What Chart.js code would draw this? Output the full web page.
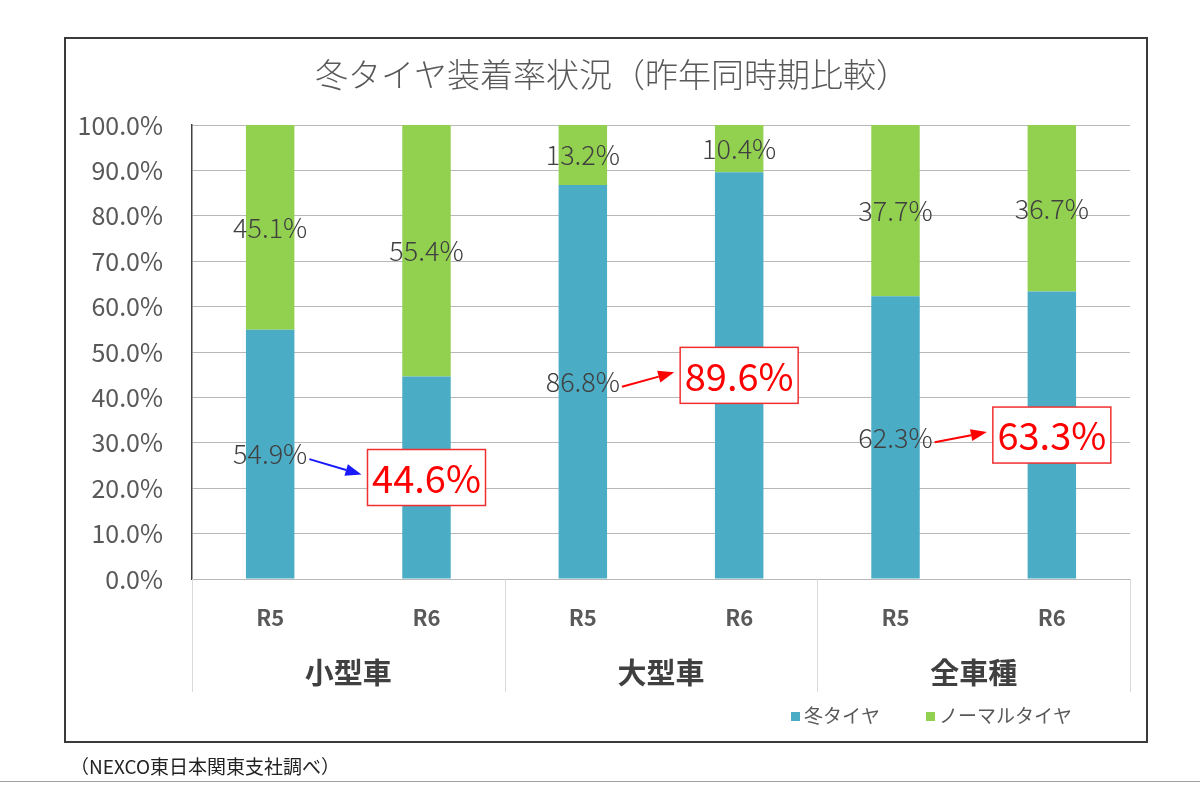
<!DOCTYPE html>
<html>
<head>
<meta charset="utf-8">
<script src="https://cdn.jsdelivr.net/npm/chart.js@4"></script>
<style>
  html, body { margin: 0; padding: 0; background: #fff; }
  #wrap { width: 1200px; height: 800px; }
</style>
</head>
<body>
<div id="wrap"><canvas id="barChart" width="1200" height="800"></canvas></div>
<script>
// values
const periods = ["R5", "R6", "R5", "R6", "R5", "R6"];
const groups = ["小型車", "大型車", "全車種"];
const winterTires = [54.9, 44.6, 86.8, 89.6, 62.3, 63.3];
const normalTires = [45.1, 55.4, 13.2, 10.4, 37.7, 36.7];
const highlighted = [1, 3, 5];
const arrowColors = ["#1a1aff", "#ff0000", "#ff0000"];

const FONT = '"Noto Sans CJK JP", "Noto Sans", sans-serif';

// frame, title, footnote
const framePlugin = {
  id: "frame",
  beforeDraw(chart) {
    const ctx = chart.ctx;
    ctx.save();
    ctx.fillStyle = "#fff";
    ctx.fillRect(0, 0, chart.width, chart.height);
    ctx.strokeStyle = "#3a3a3a";
    ctx.lineWidth = 2;
    ctx.strokeRect(65, 38, 1082, 704);
    ctx.strokeStyle = "#a0a0a0";
    ctx.lineWidth = 1;
    ctx.beginPath();
    ctx.moveTo(0, 781.5);
    ctx.lineTo(1200, 781.5);
    ctx.stroke();

    ctx.fillStyle = "#595959";
    ctx.font = "300 33px " + FONT;
    ctx.textAlign = "center";
    ctx.textBaseline = "middle";
    ctx.fillText("冬タイヤ装着率状況（昨年同時期比較）", 612, 74);

    ctx.fillStyle = "#222";
    ctx.font = "19px " + FONT;
    ctx.textAlign = "left";
    ctx.fillText("（NEXCO東日本関東支社調べ）", 70, 767);
    ctx.restore();
  }
};

// two-level category axis and legend
const axisPlugin = {
  id: "groupAxis",
  afterDraw(chart) {
    const ctx = chart.ctx;
    const x = chart.scales.x;
    const area = chart.chartArea;
    const slot = (area.right - area.left) / periods.length;
    ctx.save();
    ctx.strokeStyle = "#d9d9d9";
    ctx.lineWidth = 1;
    for (let g = 0; g <= groups.length; g++) {
      const px = Math.round(area.left + g * 2 * slot) + 0.5;
      ctx.beginPath();
      ctx.moveTo(px, area.bottom);
      ctx.lineTo(px, 692);
      ctx.stroke();
    }
    ctx.textAlign = "center";
    ctx.textBaseline = "middle";
    ctx.fillStyle = "#595959";
    ctx.font = "bold 22px " + FONT;
    periods.forEach((p, i) => {
      ctx.fillText(p, x.getPixelForValue(i), 618);
    });
    ctx.fillStyle = "#404040";
    ctx.font = "bold 29px " + FONT;
    groups.forEach((g, i) => {
      const cx = (x.getPixelForValue(2 * i) + x.getPixelForValue(2 * i + 1)) / 2;
      ctx.fillText(g, cx, 673);
    });

    // legend
    ctx.font = "19px " + FONT;
    ctx.textAlign = "left";
    ctx.fillStyle = chart.data.datasets[0].backgroundColor;
    ctx.fillRect(791, 712, 9, 9);
    ctx.fillStyle = "#595959";
    ctx.fillText(chart.data.datasets[0].label, 804, 716);
    ctx.fillStyle = chart.data.datasets[1].backgroundColor;
    ctx.fillRect(926, 712, 9, 9);
    ctx.fillStyle = "#595959";
    ctx.fillText(chart.data.datasets[1].label, 939, 716);
    ctx.restore();
  }
};

function drawArrow(ctx, x1, y1, x2, y2, color) {
  const ang = Math.atan2(y2 - y1, x2 - x1);
  const head = 16;
  ctx.strokeStyle = color;
  ctx.fillStyle = color;
  ctx.lineWidth = 2;
  ctx.beginPath();
  ctx.moveTo(x1, y1);
  ctx.lineTo(x2 - head * Math.cos(ang), y2 - head * Math.sin(ang));
  ctx.stroke();
  ctx.beginPath();
  ctx.moveTo(x2, y2);
  ctx.lineTo(x2 - head * Math.cos(ang) + 6 * Math.sin(ang), y2 - head * Math.sin(ang) - 6 * Math.cos(ang));
  ctx.lineTo(x2 - head * Math.cos(ang) - 6 * Math.sin(ang), y2 - head * Math.sin(ang) + 6 * Math.cos(ang));
  ctx.closePath();
  ctx.fill();
}

// value labels, red boxes and arrows
const labelPlugin = {
  id: "valueLabels",
  afterDatasetsDraw(chart) {
    const ctx = chart.ctx;
    ctx.save();
    ctx.textAlign = "center";
    ctx.textBaseline = "middle";
    const boxes = {};
    const plain = {};
    chart.data.datasets.forEach((ds, di) => {
      const meta = chart.getDatasetMeta(di);
      meta.data.forEach((bar, i) => {
        const text = ds.data[i].toFixed(1) + "%";
        const cy = (bar.y + bar.base) / 2;
        if (di === 0 && highlighted.includes(i)) {
          ctx.font = "38px " + FONT;
          const w = 118, h = 56;
          ctx.fillStyle = "#fff";
          ctx.fillRect(bar.x - w / 2, cy - h / 2, w, h);
          ctx.strokeStyle = "#f03030";
          ctx.lineWidth = 1.5;
          ctx.strokeRect(bar.x - w / 2, cy - h / 2, w, h);
          ctx.fillStyle = "#ff0000";
          ctx.fillText(text, bar.x, cy + 1);
          boxes[i] = { left: bar.x - w / 2, y: cy };
        } else {
          ctx.font = "300 27px " + FONT;
          ctx.fillStyle = "#404040";
          ctx.fillText(text, bar.x, cy);
          if (di === 0) plain[i] = { right: bar.x + ctx.measureText(text).width / 2, y: cy };
        }
      });
    });
    highlighted.forEach((hi, g) => {
      const from = plain[hi - 1];
      const to = boxes[hi];
      if (from && to) drawArrow(ctx, from.right + 2, from.y + 5, to.left - 6, to.y - 3, arrowColors[g]);
    });
    ctx.restore();
  }
};

new Chart(document.getElementById("barChart").getContext("2d"), {
  type: "bar",
  data: {
    labels: periods,
    datasets: [
      {
        label: "冬タイヤ",
        backgroundColor: "#4BACC6",
        data: winterTires
      },
      {
        label: "ノーマルタイヤ",
        backgroundColor: "#92D050",
        data: normalTires
      }
    ]
  },
  options: {
    responsive: false,
    maintainAspectRatio: false,
    animation: false,
    layout: { padding: { left: 0, top: 125, right: 70, bottom: 221 } },
    datasets: { bar: { categoryPercentage: 1, barPercentage: 0.31 } },
    plugins: { legend: { display: false }, title: { display: false }, tooltip: { enabled: false } },
    scales: {
      x: {
        stacked: true,
        grid: { display: false },
        border: { display: true, color: "#b8b8b8" },
        ticks: { display: false },
        afterFit(scale) { scale.height = 0; }
      },
      y: {
        stacked: true,
        min: 0,
        max: 100,
        grid: { color: "#b8b8b8", drawTicks: false },
        border: { display: true, color: "#404040", width: 1.5 },
        ticks: {
          stepSize: 10,
          padding: 29,
          color: "#595959",
          font: { family: FONT, size: 25 },
          callback: v => v.toFixed(1) + "%"
        },
        afterFit(scale) { scale.width = 192; }
      }
    }
  },
  plugins: [framePlugin, axisPlugin, labelPlugin]
});
</script>
</body>
</html>
